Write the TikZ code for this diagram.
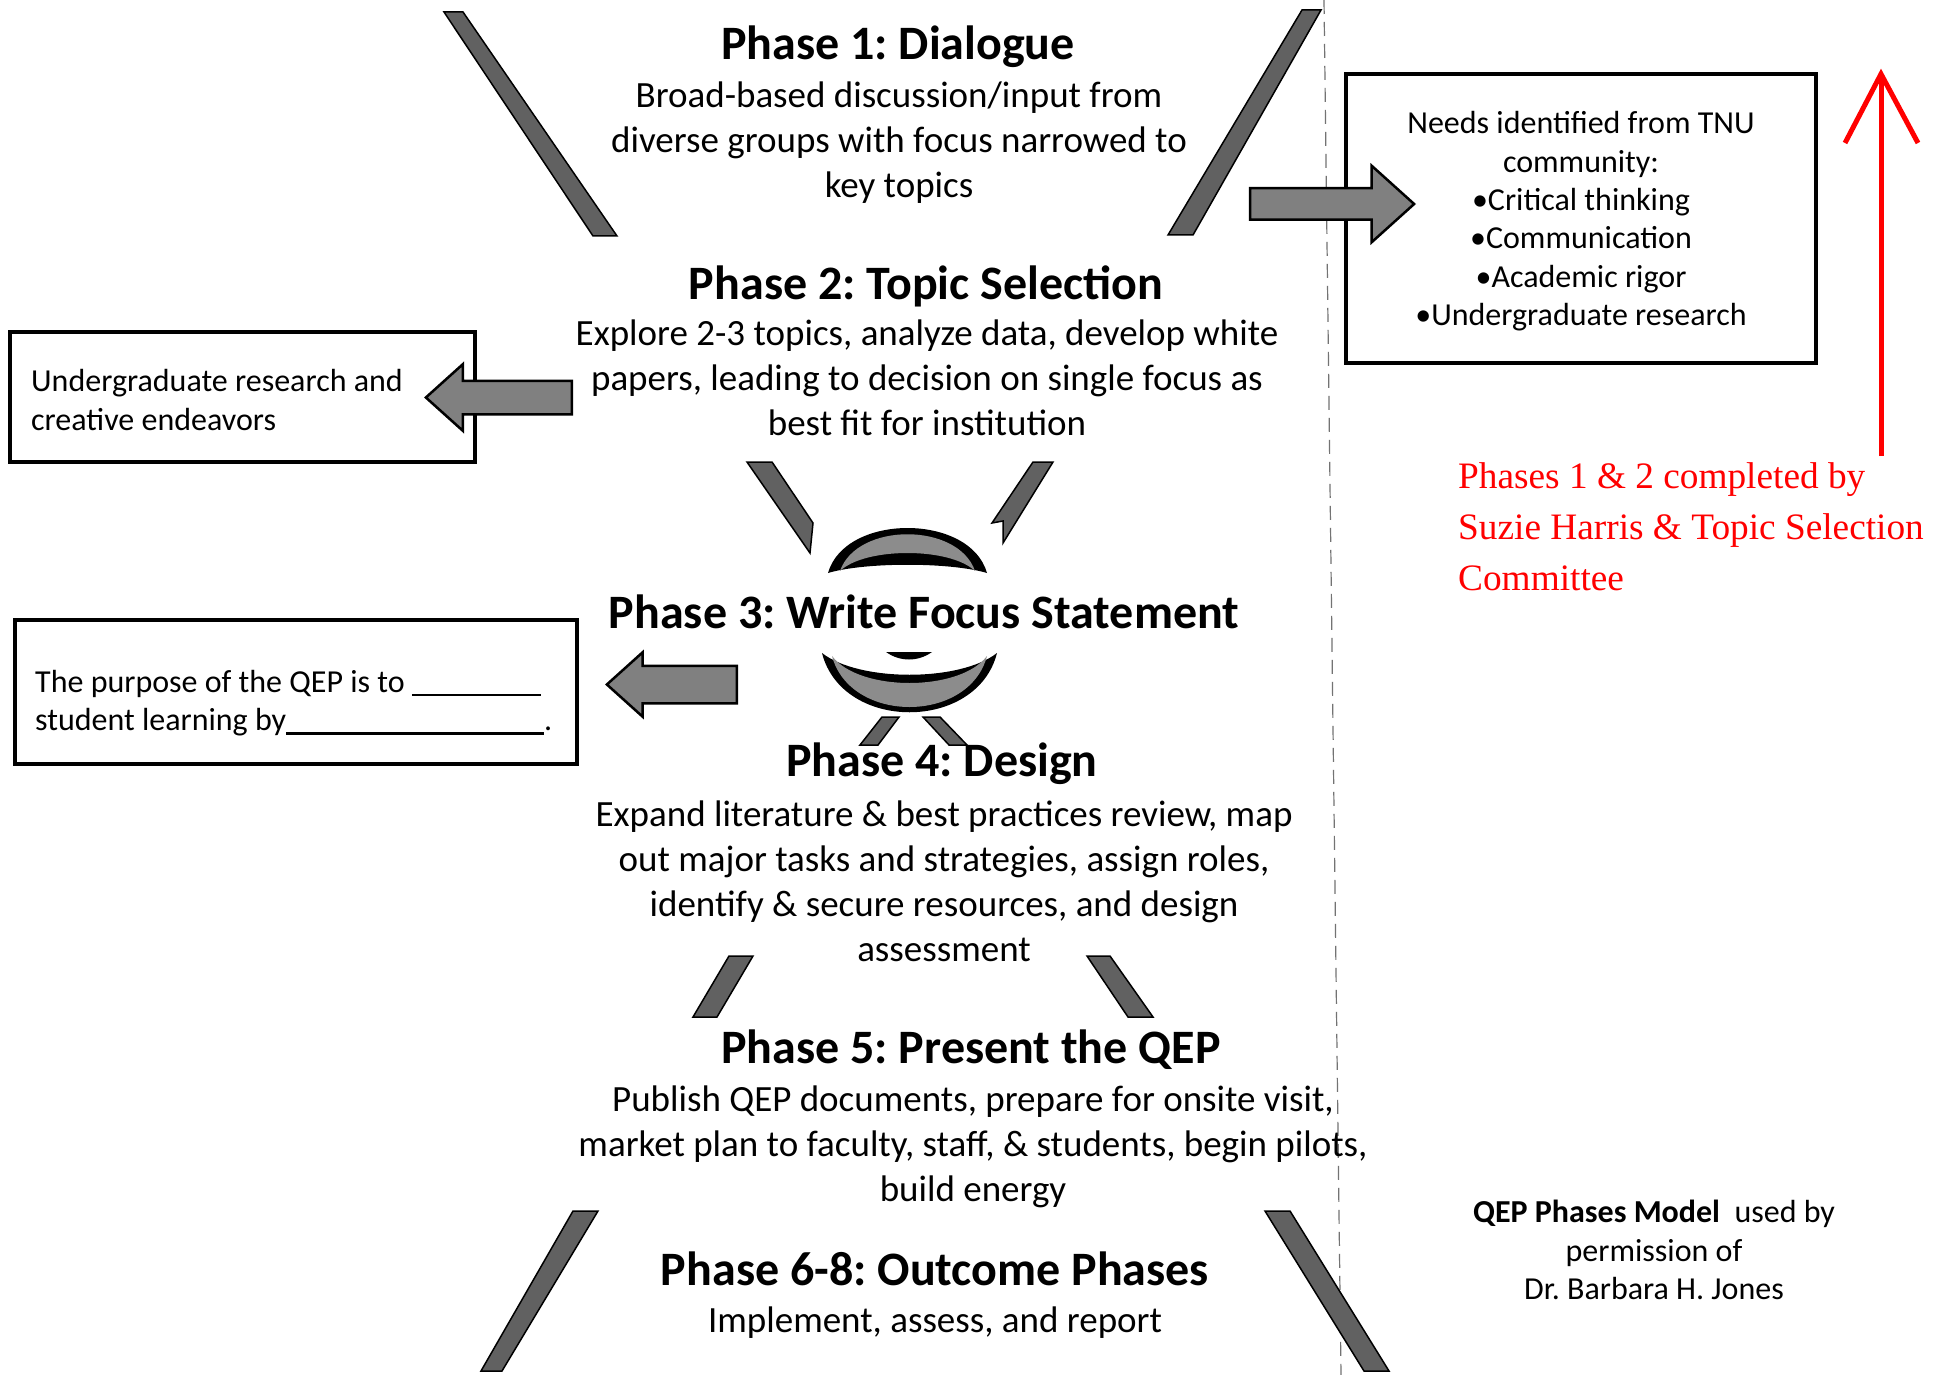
\documentclass[tikz,border=0pt]{standalone}
\usepackage{fontspec}
\setmainfont{Carlito}
\newfontfamily\timesfont{Liberation Serif}
\usetikzlibrary{shapes.arrows,calc}
\frenchspacing
\begin{document}
\begin{tikzpicture}[x=1pt,y=-1pt,
  ptitle/.style={font={\fontsize{48}{57}\selectfont\bfseries}, inner sep=0pt},
  pbody/.style={font={\fontsize{37}{45}\selectfont}, align=center, inner sep=0pt},
  boxtext/.style={font={\fontsize{32}{38.4}\selectfont}, inner sep=0pt},
  framebox/.style={draw=black, line width=4pt},
  bar/.style={fill=black!62, draw=black, line width=1.5pt, line join=miter},
  blockarrow/.style={single arrow, fill=black!50, draw=black, line width=2.5pt, inner xsep=0pt, single arrow tip angle=84, anchor=tip},
  redline/.style={draw=red, line width=5pt},
]
\useasboundingbox[fill=white] (0,0) rectangle (1944,1375);

% dashed divider
\coordinate (dtop) at (1324,0);
\coordinate (dbot) at (1341,1375);
\draw[black!55, line width=1.2pt, dash pattern=on 14pt off 8pt] (dtop) -- (dbot);

% diagonal bars
\draw[bar] (444,12) -- (463,12) -- (617,236) -- (593,236) -- cycle;
\draw[bar] (1302,10) -- (1321,10) -- (1193,235) -- (1168,235) -- cycle;
\draw[bar] (747,462) -- (772,462) -- (813,523) -- (810,553) -- cycle;
\draw[bar] (1033,462) -- (1053,462) -- (1003,543) -- (1003,521) -- (992,523) -- cycle;
\draw[bar] (882,717) -- (899,717) -- (878,745) -- (860,745) -- cycle;
\draw[bar] (923,717) -- (940,717) -- (967,745) -- (949,745) -- cycle;
\draw[bar] (729,956) -- (753,956) -- (717,1017) -- (693,1017) -- cycle;
\draw[bar] (1087,956) -- (1110,956) -- (1153,1017) -- (1128,1017) -- cycle;
\draw[bar] (573,1211) -- (598,1211) -- (502,1371) -- (481,1371) -- cycle;
\draw[bar] (1265,1211) -- (1290,1211) -- (1389,1371) -- (1364,1371) -- cycle;

% ring around phase 3 (top and bottom parts)
\fill[black] (828,573) .. controls (845,513) and (970,513) .. (987,573)
  .. controls (950,562) and (865,562) .. (828,573) -- cycle;
\fill[black!45] (840,571) .. controls (857,522) and (958,522) .. (975,571)
  .. controls (950,547) and (865,547) .. (840,571) -- cycle;
\fill[black] (822,653) .. controls (842,732) and (977,732) .. (997,653)
  .. controls (960,682) and (859,682) .. (822,653) -- cycle;
\fill[black!45] (832,656) .. controls (850,724) and (969,724) .. (987,656)
  .. controls (960,692) and (859,692) .. (832,656) -- cycle;
\fill[black] (886,652) .. controls (900,662) and (918,662) .. (932,652) -- cycle;

% phase texts
\node[ptitle] (t1) at (898,47) {Phase 1: Dialogue};
\node[pbody] (b1) at (899,143) {Broad-based discussion/input from\\diverse groups with focus narrowed to\\key topics};
\node[ptitle] (t2) at (926,286) {Phase 2: Topic Selection};
\node[pbody] (b2) at (927,378) {Explore 2-3 topics, analyze data, develop white\\papers, leading to decision on single focus as\\best fit for institution};
\node[ptitle] (t3) at (924,612) {Phase 3: Write Focus Statement};
\node[ptitle] (t4) at (942,764) {Phase 4: Design};
\node[pbody] (b4) at (944,881) {Expand literature \& best practices review, map\\out major tasks and strategies, assign roles,\\identify \& secure resources, and design\\assessment};
\node[ptitle] (t5) at (971,1050) {Phase 5: Present the QEP};
\node[pbody] (b5) at (973,1147) {Publish QEP documents, prepare for onsite visit,\\market plan to faculty, staff, \& students, begin pilots,\\build energy};
\node[ptitle] (t6) at (935,1269) {Phase 6-8: Outcome Phases};
\node[pbody] (b6) at (935,1323) {Implement, assess, and report};

% side boxes
\node[framebox, boxtext, minimum width=470pt, minimum height=289pt, align=center, text depth=0pt] (needs) at (1581,218.5)
  {\rule{0pt}{6pt}Needs identified from TNU\\community:\\•Critical thinking\\•Communication\\•Academic rigor\\•Undergraduate research};
\node[framebox, minimum width=465pt, minimum height=130pt] (ug) at (242.5,397) {};
\node[boxtext, align=left, anchor=west] (ugtext) at (31,400)
  {Undergraduate research and\\creative endeavors};
\node[framebox, minimum width=562pt, minimum height=144pt] (pbox) at (296,692) {};
\node[boxtext, align=left, anchor=west] (ptext) at (35,703)
  {The purpose of the QEP is to \rule[-4pt]{129pt}{2.5pt}\\student learning by\rule[-4pt]{258pt}{2.5pt}.};

% block arrows
\node[blockarrow, minimum height=164pt, minimum width=74pt, inner ysep=14.5pt, single arrow head extend=22.5pt] (a1) at (1416,204) {};
\node[blockarrow, shape border rotate=180, minimum height=146pt, minimum width=64pt, inner ysep=15.5pt, single arrow head extend=16.5pt] (a2) at (424,397.5) {};
\node[blockarrow, shape border rotate=180, minimum height=130pt, minimum width=62pt, inner ysep=17.5pt, single arrow head extend=13.5pt] (a3) at (605,684.5) {};

% red annotation
\node[font={\fontsize{37.3}{51}\selectfont\timesfont}, text=red, align=left, anchor=west, inner sep=0pt] (red) at (1458,527)
  {Phases 1 \& 2 completed by\\Suzie Harris \& Topic Selection\\Committee};
\coordinate (rbot) at (1881,456);
\coordinate (rtop) at (1881,74);
\draw[redline] (rbot) -- (rtop);
\draw[redline, line join=miter] ($(rtop)+(-36,69)$) -- (rtop) -- ($(rtop)+(37,69)$);

% credit
\node[boxtext, align=center] (credit) at (1654,1250)
  {{\bfseries QEP Phases Model}\ \ used by\\permission of\\Dr. Barbara H. Jones};
\end{tikzpicture}
\end{document}
